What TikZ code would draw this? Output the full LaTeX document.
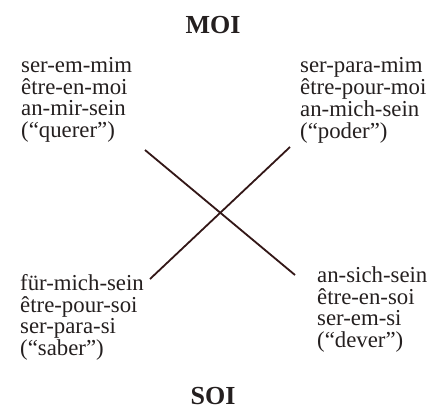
\documentclass[tikz,border=0pt]{standalone}
\usepackage{fontspec}
\setmainfont{Liberation Serif}
\definecolor{ink}{rgb}{0.14,0.12,0.12}
\definecolor{rule}{rgb}{0.2,0.09,0.09}
\begin{document}
\begin{tikzpicture}[x=1pt,y=1pt,
  term/.style={inner sep=0pt, anchor=base west, text=ink,
    font=\fontsize{22.8}{21.2}\selectfont},
  pole/.style={inner sep=0pt, text=ink, font=\fontsize{26}{28}\selectfont\bfseries},
  cross/.style={draw=rule, line width=1.8pt}]
\useasboundingbox (0,0) rectangle (434,-416);

% the two poles
\node[pole] (moi) at (213,-25) {MOI};
\node[pole] (soi) at (213,-396) {SOI};

% the four corners
\node[term] (tl) at (21,-72) {\begin{tabular}[t]{@{}l@{}}ser-em-mim\\être-en-moi\\an-mir-sein\\(“querer”)\end{tabular}};
\node[term] (tr) at (300,-72) {\begin{tabular}[t]{@{}l@{}}ser-para-mim\\être-pour-moi\\an-mich-sein\\(“poder”)\end{tabular}};
\node[term] (bl) at (20,-290) {\begin{tabular}[t]{@{}l@{}}für-mich-sein\\être-pour-soi\\ser-para-si\\(“saber”)\end{tabular}};
\node[term] (br) at (317,-282) {\begin{tabular}[t]{@{}l@{}}an-sich-sein\\être-en-soi\\ser-em-si\\(“dever”)\end{tabular}};

% ends of the crossing strokes
\coordinate (q) at (145,-150);
\coordinate (d) at (295,-275);
\coordinate (p) at (290,-147);
\coordinate (s) at (150,-279);

\draw[cross] (q) -- (d);
\draw[cross] (p) -- (s);
\end{tikzpicture}
\end{document}
